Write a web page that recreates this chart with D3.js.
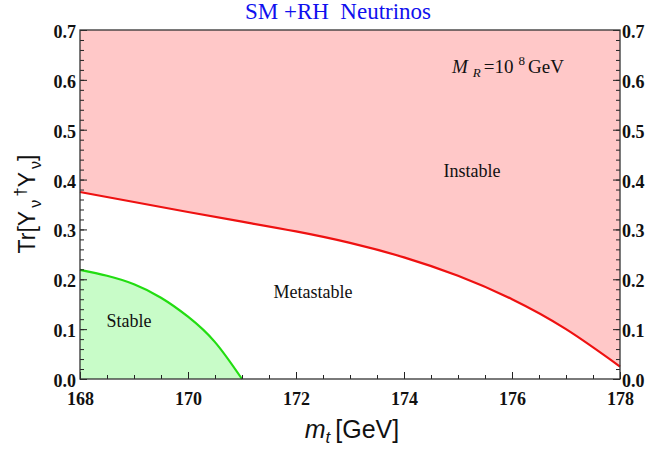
<!DOCTYPE html>
<html><head><meta charset="utf-8">
<script src="https://cdn.jsdelivr.net/npm/d3@7"></script>
<style>body{margin:0;background:#fff}svg{display:block}</style>
</head><body>
<script>
// Data
const redMt = [168, 169, 170, 171, 172, 173, 174, 175, 176, 177, 178];
const redY  = [0.375, 0.355, 0.335, 0.3155, 0.296, 0.273, 0.244, 0.207, 0.160, 0.100, 0.025];
const greenMt = [168, 168.5, 169, 169.5, 170, 170.5, 171];
const greenY  = [0.219, 0.207, 0.190, 0.163, 0.125, 0.074, 0.0];
const xTicks = [168, 170, 172, 174, 176, 178];
const yTicks = [0.0, 0.1, 0.2, 0.3, 0.4, 0.5, 0.6, 0.7];

const W = 650, H = 453;
const m = {l: 80, r: 30, t: 30, b: 74};
const svg = d3.select("body").append("svg").attr("width", W).attr("height", H);
const x = d3.scaleLinear().domain([168, 178]).range([m.l, W - m.r]);
const y = d3.scaleLinear().domain([0, 0.7]).range([H - m.b, m.t]);

const red = redMt.map((d, i) => [d, redY[i]]);
const green = greenMt.map((d, i) => [d, greenY[i]]);
const curve = d3.curveNatural;

// Instable region
svg.append("path")
  .datum(red)
  .attr("d", d3.area().x(d => x(d[0])).y0(y(0.7)).y1(d => y(d[1])).curve(curve))
  .attr("fill", "#ffc8c8");
// Stable region
svg.append("path")
  .datum(green)
  .attr("d", d3.area().x(d => x(d[0])).y0(y(0)).y1(d => y(d[1])).curve(curve))
  .attr("fill", "#c8fcc8");

const line = d3.line().x(d => x(d[0])).y(d => y(d[1])).curve(curve);
svg.append("path").datum(red).attr("d", line).attr("fill", "none")
  .attr("stroke", "#ee1111").attr("stroke-width", 2.2);
svg.append("path").datum(green).attr("d", line).attr("fill", "none")
  .attr("stroke", "#22dd11").attr("stroke-width", 2.2);

// Axes
const font = "'Liberation Serif','Times New Roman',serif";
const minorX = d3.range(168, 178.01, 0.5);
const minorY = d3.range(0, 0.7001, 0.02);
function styleAxis(g) {
  g.selectAll(".domain").remove();
  g.selectAll("line").attr("stroke", "#222");
  g.selectAll("text").attr("font-family", font).attr("font-weight", "bold")
    .attr("font-size", 18).attr("fill", "#111");
}
// bottom
svg.append("g").attr("transform", `translate(0,${H - m.b})`)
  .call(d3.axisBottom(x).tickValues(minorX).tickSize(-4).tickFormat(""))
  .call(styleAxis);
svg.append("g").attr("transform", `translate(0,${H - m.b})`)
  .call(d3.axisBottom(x).tickValues(xTicks).tickSize(-7).tickPadding(13).tickFormat(d3.format("d")))
  .call(styleAxis);
// left
svg.append("g").attr("transform", `translate(${m.l},0)`)
  .call(d3.axisLeft(y).tickValues(minorY).tickSize(-4).tickFormat(""))
  .call(styleAxis);
svg.append("g").attr("transform", `translate(${m.l},0)`)
  .call(d3.axisLeft(y).tickValues(yTicks).tickSize(-7).tickPadding(4).tickFormat(d3.format(".1f")))
  .call(styleAxis)
  .selectAll("text").attr("dy", "0.42em");
// right
svg.append("g").attr("transform", `translate(${W - m.r},0)`)
  .call(d3.axisRight(y).tickValues(minorY).tickSize(-4).tickFormat(""))
  .call(styleAxis);
svg.append("g").attr("transform", `translate(${W - m.r},0)`)
  .call(d3.axisRight(y).tickValues(yTicks).tickSize(-7).tickPadding(2).tickFormat(d3.format(".1f")))
  .call(styleAxis)
  .selectAll("text").attr("dy", "0.42em");

// frame
svg.append("rect").attr("x", m.l).attr("y", m.t)
  .attr("width", W - m.l - m.r).attr("height", H - m.t - m.b)
  .attr("fill", "none").attr("stroke", "#333").attr("stroke-width", 1.3);

// Title
svg.append("text").attr("x", 338).attr("y", 19).attr("text-anchor", "middle")
  .attr("font-family", font).attr("font-size", 23).attr("fill", "#1010ee")
  .attr("xml:space", "preserve").text("SM +RH  Neutrinos");

// Region labels
function lab(t, cx, cy) {
  svg.append("text").attr("x", cx).attr("y", cy).attr("text-anchor", "middle")
    .attr("font-family", font).attr("font-size", 18).attr("fill", "#111").text(t);
}
lab("Instable", 472, 177);
lab("Metastable", 313, 298);
lab("Stable", 129, 327);

// M_R annotation
const ann = svg.append("text").attr("x", 452).attr("y", 73)
  .attr("font-family", font).attr("font-size", 19).attr("fill", "#111");
ann.append("tspan").attr("font-style", "italic").text("M");
ann.append("tspan").attr("font-style", "italic").attr("font-size", 13).attr("dx", 5).attr("dy", 4).text("R");
ann.append("tspan").attr("dy", -4).attr("dx", 3).text("=10");
ann.append("tspan").attr("font-size", 13).attr("dy", -8).attr("dx", 5).text("8");
ann.append("tspan").attr("dy", 8).attr("dx", 3).text("GeV");

// X label
const sans = "'Liberation Sans',Arial,sans-serif";
const xl = svg.append("text").attr("x", 352).attr("y", 438).attr("text-anchor", "middle")
  .attr("font-family", sans).attr("font-size", 25).attr("fill", "#111");
xl.append("tspan").attr("font-style", "italic").text("m");
xl.append("tspan").attr("font-style", "italic").attr("font-size", 17).attr("dy", 5).text("t");
xl.append("tspan").attr("dy", -5).attr("dx", 5).text("[GeV]");

// Y label
const yl = svg.append("text").attr("transform", "translate(35,204) rotate(-90)")
  .attr("text-anchor", "middle")
  .attr("font-family", sans).attr("font-size", 23).attr("fill", "#111");
yl.append("tspan").text("Tr[Y");
yl.append("tspan").attr("font-size", 16).attr("dy", 6).attr("dx", 3).text("ν");
yl.append("tspan").attr("font-size", 17).attr("dy", -15).attr("dx", 3).text("†");
yl.append("tspan").attr("dy", 9).text("Y");
yl.append("tspan").attr("font-size", 16).attr("dy", 6).attr("dx", 3).text("ν");
yl.append("tspan").attr("dy", -6).text("]");
</script>
</body></html>
